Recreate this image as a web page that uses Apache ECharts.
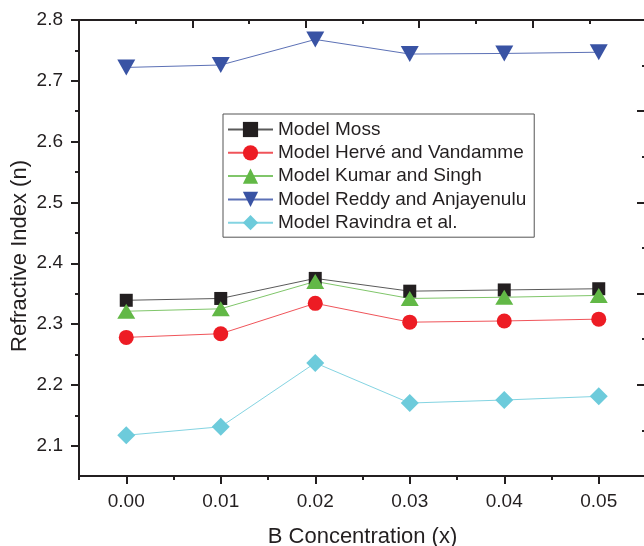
<!DOCTYPE html>
<html>
<head>
<meta charset="utf-8">
<script src="https://cdn.jsdelivr.net/npm/echarts@6/dist/echarts.min.js"></script>
<style>
html,body{margin:0;padding:0;background:#fff;}
#chart{width:644px;height:546px;}
</style>
</head>
<body>
<div id="chart"></div>
<script>
const xLabels = ['0.00', '0.01', '0.02', '0.03', '0.04', '0.05'];
const seriesNames = ['Model Moss', 'Model Hervé and Vandamme', 'Model Kumar and Singh', 'Model Reddy and Anjayenulu', 'Model Ravindra et al.'];
const moss     = [2.339, 2.342, 2.375, 2.354, 2.356, 2.358];
const herve    = [2.278, 2.284, 2.334, 2.303, 2.305, 2.308];
const kumar    = [2.321, 2.325, 2.370, 2.342, 2.344, 2.347];
const reddy    = [2.722, 2.726, 2.768, 2.744, 2.745, 2.747];
const ravindra = [2.117, 2.131, 2.236, 2.170, 2.175, 2.181];
const yMin = 2.05, yMax = 2.8;

const ink = '#231f20';
const font = 'Liberation Sans, Arial, Helvetica, sans-serif';

function mk(name, data, symbol, size, mColor, lColor, rotate) {
  return {
    name: name, type: 'line', data: data,
    symbol: symbol, symbolSize: size, symbolRotate: rotate || 0,
    itemStyle: { color: mColor },
    lineStyle: { color: lColor, width: 1 },
    emphasis: { disabled: true },
    animation: false, z: 3
  };
}

const chart = echarts.init(document.getElementById('chart'), null, { renderer: 'canvas' });
chart.setOption({
  backgroundColor: '#fff',
  animation: false,
  grid: [
    { left: 79, top: 20, width: 567, height: 456, containLabel: false, outerBoundsMode: 'none' },
    { left: 79, top: 20, width: 567, height: 425.7, containLabel: false, outerBoundsMode: 'none' }
  ],
  legend: {
    orient: 'vertical', left: 223, top: 114,
    backgroundColor: '#fff',
    borderColor: '#555', borderWidth: 1,
    padding: [6, 8, 5, 4],
    itemGap: 4.3, itemWidth: 45, itemHeight: 19,
    textStyle: { fontSize: 19, color: ink, fontFamily: font },
    data: seriesNames
  },
  xAxis: [
    {
      type: 'category', data: xLabels, boundaryGap: true, position: 'bottom', gridIndex: 0,
      name: 'B Concentration (x)', nameLocation: 'middle', nameGap: 50, nameMoveOverlap: false,
      nameTextStyle: { fontSize: 22, color: ink, fontFamily: font },
      axisLine: { show: true, lineStyle: { color: ink, width: 2 } },
      axisTick: { show: true, alignWithLabel: true, length: 8, inside: false, lineStyle: { color: ink, width: 2 } },
      axisLabel: { fontSize: 19, color: ink, fontFamily: font, margin: 16 },
      splitLine: { show: false }
    },
    {
      type: 'category', data: xLabels, boundaryGap: true, position: 'bottom', gridIndex: 0,
      axisLine: { show: true, lineStyle: { color: ink, width: 2 } },
      axisTick: { show: true, length: 4, inside: false, lineStyle: { color: ink, width: 2 } },
      axisLabel: { show: false }, splitLine: { show: false }
    },
    {
      type: 'value', position: 'top', gridIndex: 0, min: 0, max: 5, interval: 1,
      axisLine: { show: true, lineStyle: { color: ink, width: 2 } },
      axisTick: { show: true, inside: true, length: 8, lineStyle: { color: ink, width: 2 } },
      minorTick: { show: true, splitNumber: 2, length: 4, lineStyle: { color: ink, width: 2 } },
      axisLabel: { show: false }, splitLine: { show: false }
    },
    {
      type: 'value', gridIndex: 1, min: 0, max: 1, show: false
    }
  ],
  yAxis: [
    {
      type: 'value', gridIndex: 0, min: yMin, max: yMax, interval: 0.05, position: 'left',
      name: 'Refractive Index (n)', nameLocation: 'middle', nameGap: 48, nameMoveOverlap: false,
      nameTextStyle: { fontSize: 22, color: ink, fontFamily: font, padding: [0, 16, 0, 0] },
      axisLine: { show: true, lineStyle: { color: ink, width: 2 } },
      axisTick: { show: false },
      axisLabel: {
        fontSize: 19, color: ink, fontFamily: font, margin: 16,
        formatter: function (v) { const k = Math.round(v * 100); return k % 10 === 0 ? (k / 100).toFixed(1) : ''; }
      },
      splitLine: { show: false }
    },
    {
      type: 'value', gridIndex: 0, position: 'right', min: 0, max: 5, interval: 1,
      axisLine: { show: true, lineStyle: { color: ink, width: 2 } },
      axisTick: { show: true, inside: true, length: 9, lineStyle: { color: ink, width: 2 } },
      minorTick: { show: true, splitNumber: 2, length: 4, lineStyle: { color: ink, width: 2 } },
      axisLabel: { show: false }, splitLine: { show: false }
    },
    {
      type: 'value', gridIndex: 1, position: 'left', min: 0, max: 7, interval: 1,
      axisLine: { show: true, lineStyle: { color: ink, width: 2 } },
      axisTick: { show: true, inside: false, length: 8, lineStyle: { color: ink, width: 2 } },
      minorTick: { show: true, splitNumber: 2, length: 4, lineStyle: { color: ink, width: 2 } },
      axisLabel: { show: false }, splitLine: { show: false }
    }
  ],
  series: [
    mk(seriesNames[0], moss, 'rect', 13, '#231f20', '#5a5a5a'),
    mk(seriesNames[1], herve, 'circle', 15, '#ed1c24', '#f0545a'),
    mk(seriesNames[2], kumar, 'triangle', [18, 15], '#62b846', '#80c66a'),
    mk(seriesNames[3], reddy, 'triangle', [18, 16], '#3953a4', '#5c71b6', 180),
    mk(seriesNames[4], ravindra, 'diamond', 18, '#6dcbdb', '#84d4e2')
  ]
});
</script>
</body>
</html>
